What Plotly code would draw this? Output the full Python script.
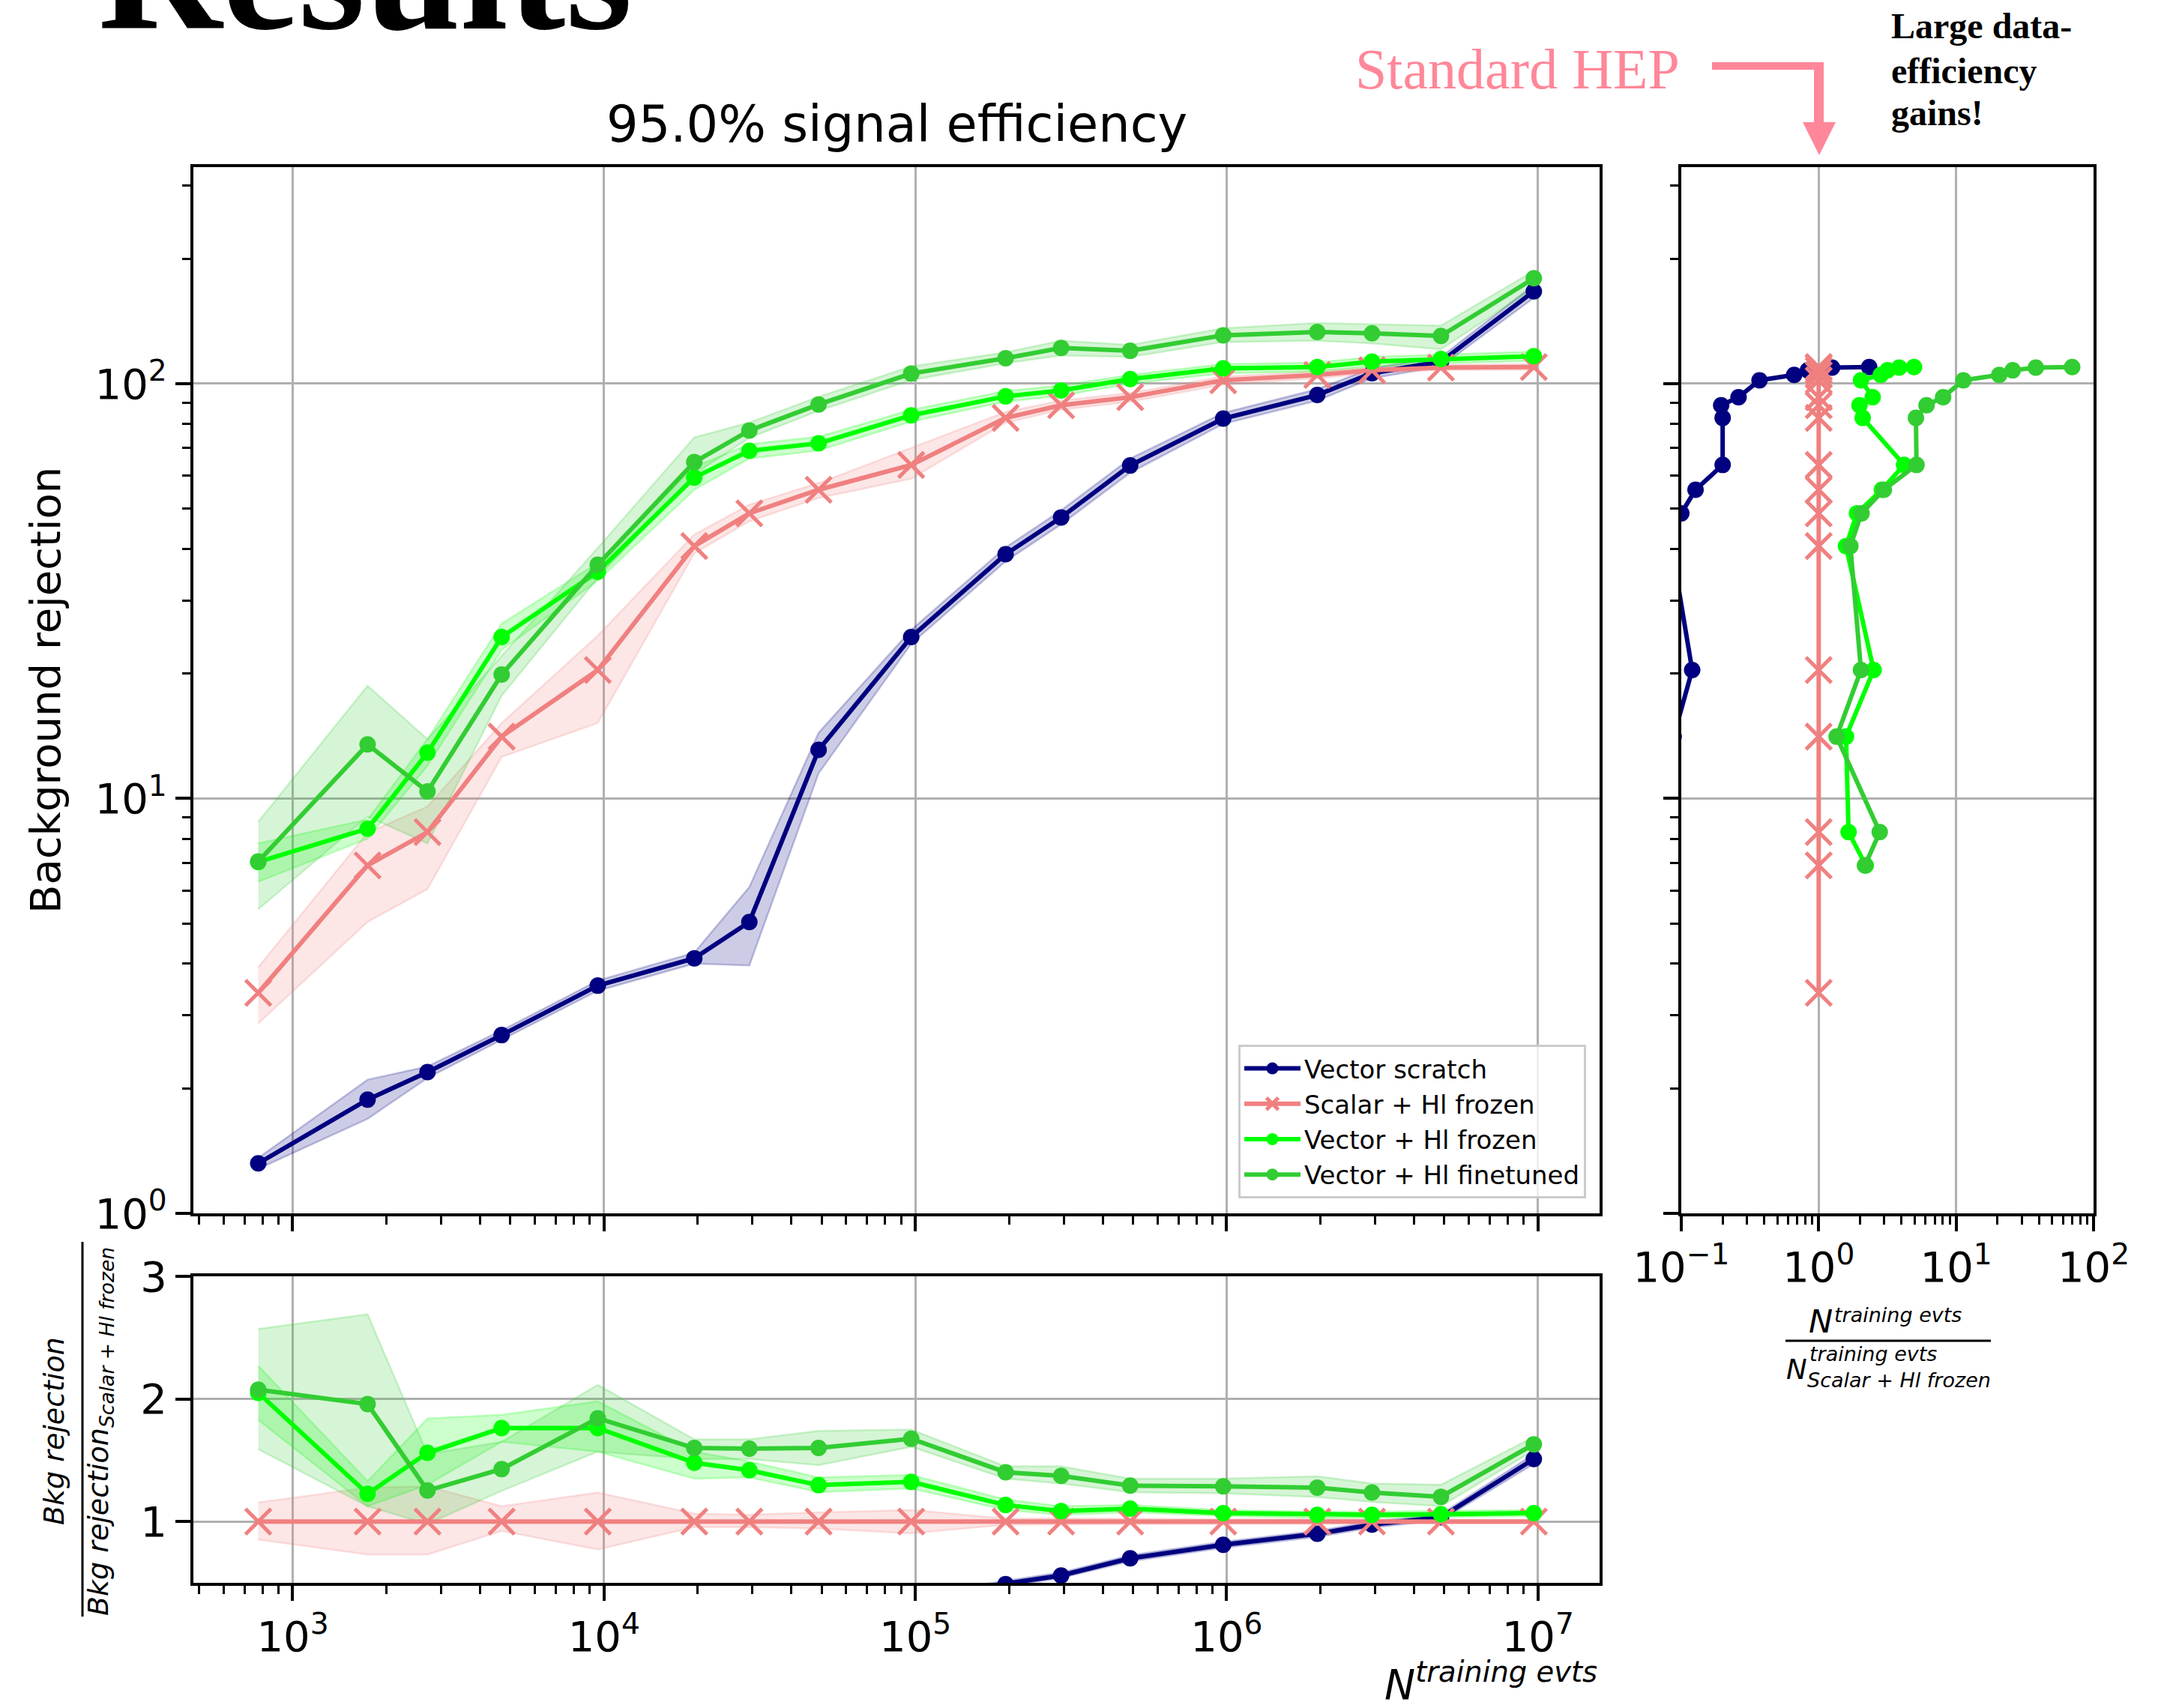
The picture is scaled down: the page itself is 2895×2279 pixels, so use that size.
import plotly.graph_objects as go

# ---------------- data ----------------
n_events = [775, 1740, 2710, 4690, 9550, 19500, 29300, 48900, 97000, 195000,
            294000, 490000, 975000, 1955000, 2930000, 4880000, 9700000]

# background rejection at 95% signal efficiency
rej_vector_scratch = [1.32, 1.88, 2.19, 2.69, 3.54, 4.12, 5.04, 13.1, 24.5, 38.8,
                      47.6, 63.5, 82.4, 93.9, 106, 113, 167]
rej_vector_scratch_lo = [1.28, 1.69, 2.12, 2.62, 3.44, 4.0, 3.96, 11.5, 23.6, 37.3,
                         45.8, 61, 80, 91, 103, 110, 161]
rej_vector_scratch_hi = [1.36, 2.10, 2.26, 2.76, 3.64, 4.25, 6.12, 14.4, 25.5, 40.3,
                         49.5, 66, 85, 97, 109, 116, 173]

rej_scalar_frozen = [3.40, 6.90, 8.30, 14.1, 20.4, 40.6, 48.7, 55.5, 63.7, 82.7,
                     88.7, 92.8, 101.9, 105, 107.7, 109.3, 109.7]
rej_scalar_frozen_lo = [2.87, 5.04, 6.05, 12.6, 15.2, 39.0, 46.6, 53.0, 59.0, 80.5,
                        86.5, 90.5, 99.5, 103, 106, 108, 108]
rej_scalar_frozen_hi = [3.92, 8.27, 9.57, 15.2, 24.7, 43.3, 51.1, 57.6, 70.0, 85.5,
                        91, 95, 104, 107, 109.5, 111, 111.5]

rej_vector_frozen = [7.03, 8.46, 12.9, 24.5, 35.2, 59.4, 68.9, 71.8, 83.9, 93.2,
                     96.3, 102.6, 108.9, 109.7, 113, 114.7, 116.5]
rej_vector_frozen_lo = [6.3, 8.0, 12.0, 22.8, 33.5, 55.5, 66, 69, 81, 90.5,
                        93.5, 100, 106, 107, 110, 112, 113.5]
rej_vector_frozen_hi = [7.8, 8.9, 13.9, 26.4, 37.0, 63.0, 71.5, 74.5, 86.5, 96,
                        99, 105, 111.5, 112.5, 116, 117.5, 119.5]

rej_vector_finetuned = [7.05, 13.5, 10.4, 19.9, 36.6, 64.7, 77.1, 89.1, 105.8, 115.2,
                        121.9, 120, 130.8, 133.2, 132.2, 130.3, 179.5]
rej_vector_finetuned_lo = [5.41, 9.05, 7.8, 17.7, 34.0, 60.5, 74, 86, 102, 112,
                           117, 116, 126, 127, 125, 121, 170]
rej_vector_finetuned_hi = [8.79, 18.7, 13.9, 22.1, 40.2, 74.2, 80.6, 93, 110, 119,
                           127, 124, 136, 140, 139, 138, 187]

# ratio to Scalar + Hl frozen
ratio_vector_scratch = [0.39, 0.27, 0.26, 0.19, 0.17, 0.10, 0.10, 0.24, 0.38, 0.49,
                        0.56, 0.70, 0.81, 0.90, 0.975, 1.035, 1.51]
ratio_vector_scratch_lo = [0.37, 0.24, 0.25, 0.18, 0.16, 0.095, 0.08, 0.21, 0.36, 0.465,
                           0.54, 0.675, 0.785, 0.875, 0.95, 1.01, 1.47]
ratio_vector_scratch_hi = [0.41, 0.30, 0.27, 0.20, 0.18, 0.105, 0.12, 0.27, 0.40, 0.515,
                           0.585, 0.725, 0.835, 0.925, 1.0, 1.06, 1.55]

ratio_scalar_frozen = [1.0, 1.0, 1.0, 1.0, 1.0, 1.0, 1.0, 1.0, 1.0, 1.0,
                       1.0, 1.0, 1.0, 1.0, 1.0, 1.0, 1.0]
ratio_scalar_frozen_lo = [0.853, 0.731, 0.731, 0.923, 0.772, 0.954, 0.954, 0.943, 0.903, 0.974,
                          0.975, 0.978, 0.98, 0.98, 0.985, 0.985, 0.985]
ratio_scalar_frozen_hi = [1.156, 1.277, 1.287, 1.125, 1.236, 1.065, 1.055, 1.075, 1.095, 1.024,
                          1.025, 1.022, 1.02, 1.02, 1.015, 1.015, 1.015]

ratio_vector_frozen = [2.05, 1.226, 1.56, 1.762, 1.762, 1.479, 1.418, 1.297, 1.323, 1.135,
                       1.085, 1.105, 1.069, 1.055, 1.055, 1.059, 1.069]
ratio_vector_frozen_lo = [1.83, 1.125, 1.30, 1.65, 1.57, 1.35, 1.36, 1.24, 1.27, 1.095,
                          1.055, 1.075, 1.045, 1.03, 1.03, 1.035, 1.045]
ratio_vector_frozen_hi = [2.27, 1.33, 1.84, 1.87, 1.98, 1.57, 1.49, 1.36, 1.38, 1.18,
                          1.125, 1.135, 1.095, 1.08, 1.08, 1.085, 1.095]

ratio_vector_finetuned = [2.075, 1.958, 1.253, 1.428, 1.842, 1.600, 1.594, 1.600, 1.675, 1.402,
                          1.372, 1.293, 1.287, 1.277, 1.236, 1.202, 1.630]
ratio_vector_finetuned_lo = [1.59, 1.125, 0.98, 1.25, 1.57, 1.51, 1.51, 1.46, 1.61, 1.35,
                             1.31, 1.24, 1.23, 1.20, 1.16, 1.125, 1.58]
ratio_vector_finetuned_hi = [2.57, 2.69, 1.55, 1.65, 2.115, 1.67, 1.67, 1.74, 1.75, 1.45,
                             1.45, 1.35, 1.35, 1.37, 1.31, 1.30, 1.69]

# right panel: N(training evts) / N(Scalar + Hl frozen) at the scalar rejection levels
nratio_vector_scratch = [0.07, 0.05, 0.07, 0.088, 0.12, 0.085, 0.10, 0.127, 0.20, 0.20,
                         0.195, 0.261, 0.371, 0.663, 0.835, 1.25, 2.33]
nratio_scalar_frozen = [1.0, 1.0, 1.0, 1.0, 1.0, 1.0, 1.0, 1.0, 1.0, 1.0,
                        1.0, 1.0, 1.0, 1.0, 1.0, 1.0, 1.0]
nratio_vector_frozen = [None, 2.20, 1.65, 1.58, 2.51, 1.58, 1.90, 2.88, 4.18, 2.09,
                        1.98, 2.47, 2.03, 2.83, 3.17, 3.85, 4.94]
nratio_vector_finetuned = [None, 2.17, 2.78, 1.35, 2.03, 1.70, 2.05, 2.98, 5.15, 5.10,
                           6.09, 8.04, 11.3, 20.6, 25.8, 38.0, 69.9]

series_names = ["Vector scratch", "Scalar + Hl frozen", "Vector + Hl frozen", "Vector + Hl finetuned"]

# ---------------- styling ----------------
W, H = 2895, 2279
def px(x):
    return x / W
def py(y):
    return 1 - y / H

colors = ["#000080", "#F08080", "#00FF00", "#32CD32"]
rgb = ["0,0,128", "240,128,128", "0,255,0", "50,205,50"]
FONT = "DejaVu Sans"
GRID = "#b0b0b0"

main = [(rej_vector_scratch, rej_vector_scratch_lo, rej_vector_scratch_hi),
        (rej_scalar_frozen, rej_scalar_frozen_lo, rej_scalar_frozen_hi),
        (rej_vector_frozen, rej_vector_frozen_lo, rej_vector_frozen_hi),
        (rej_vector_finetuned, rej_vector_finetuned_lo, rej_vector_finetuned_hi)]
ratio = [(ratio_vector_scratch, ratio_vector_scratch_lo, ratio_vector_scratch_hi),
         (ratio_scalar_frozen, ratio_scalar_frozen_lo, ratio_scalar_frozen_hi),
         (ratio_vector_frozen, ratio_vector_frozen_lo, ratio_vector_frozen_hi),
         (ratio_vector_finetuned, ratio_vector_finetuned_lo, ratio_vector_finetuned_hi)]
nratio = [nratio_vector_scratch, nratio_scalar_frozen, nratio_vector_frozen, nratio_vector_finetuned]

fig = go.Figure()

def marker_for(i):
    if i == 1:
        return dict(symbol="x-thin", size=34, color=colors[i],
                    line=dict(width=5, color=colors[i]))
    return dict(symbol="circle", size=22, color=colors[i], line=dict(width=0))

# bands (below lines)
for axes, data in ((("x", "y"), main), (("x2", "y2"), ratio)):
    for i, (v, lo, hi) in enumerate(data):
        fig.add_trace(go.Scatter(
            x=list(n_events) + list(reversed(n_events)),
            y=list(hi) + list(reversed(lo)),
            xaxis=axes[0], yaxis=axes[1], mode="lines", fill="toself",
            fillcolor=f"rgba({rgb[i]},0.2)",
            line=dict(color=f"rgba({rgb[i]},0.22)", width=2.5),
            showlegend=False, hoverinfo="skip"))

# lines
for i, (v, lo, hi) in enumerate(main):
    fig.add_trace(go.Scatter(x=n_events, y=v, xaxis="x", yaxis="y", mode="lines+markers",
                             name=series_names[i], line=dict(color=colors[i], width=6),
                             marker=marker_for(i), showlegend=True))
for i, (v, lo, hi) in enumerate(ratio):
    fig.add_trace(go.Scatter(x=n_events, y=v, xaxis="x2", yaxis="y2", mode="lines+markers",
                             line=dict(color=colors[i], width=6),
                             marker=marker_for(i), showlegend=False))
for i, nr in enumerate(nratio):
    fig.add_trace(go.Scatter(x=nr, y=rej_scalar_frozen, xaxis="x3", yaxis="y3",
                             mode="lines+markers", line=dict(color=colors[i], width=6),
                             marker=marker_for(i), showlegend=False))

# ---------------- axes ----------------
tickfont = dict(family=FONT, size=56, color="black")
common = dict(showline=True, linecolor="black", linewidth=4, mirror=True,
              ticks="outside", ticklen=20, tickwidth=4, tickcolor="black",
              showgrid=True, gridcolor=GRID, gridwidth=2.5, zeroline=False,
              tickfont=tickfont, automargin=False)

def log_minor(lo_dec, hi_dec):
    return [m * 10 ** d for d in range(lo_dec, hi_dec) for m in range(2, 10)]

minor_style = dict(ticks="outside", ticklen=11, tickwidth=3, tickcolor="black", showgrid=False)

x_major = [1e3, 1e4, 1e5, 1e6, 1e7]
x_major_text = ["10<sup>3</sup>", "10<sup>4</sup>", "10<sup>5</sup>", "10<sup>6</sup>", "10<sup>7</sup>"]

fig.update_layout(
    xaxis=dict(common, domain=[px(258), px(2134)], anchor="y", type="log",
               range=[2.681, 7.198], tickmode="array", tickvals=x_major,
               ticktext=x_major_text, showticklabels=False,
               minor=dict(minor_style, tickmode="array", tickvals=log_minor(2, 7))),
    yaxis=dict(common, domain=[py(1619), py(223)], anchor="x", type="log",
               range=[0, 2.522], tickmode="array", tickvals=[1, 10, 100],
               ticktext=["10<sup>0</sup>", "10<sup>1</sup>", "10<sup>2</sup>"],
               minor=dict(minor_style, tickmode="array", tickvals=log_minor(0, 3))),
    xaxis2=dict(common, domain=[px(258), px(2134)], anchor="y2", type="log",
                range=[2.681, 7.198], tickmode="array", tickvals=x_major,
                ticktext=x_major_text,
                minor=dict(minor_style, tickmode="array", tickvals=log_minor(2, 7))),
    yaxis2=dict(common, domain=[py(2112), py(1703)], anchor="x2", type="linear",
                range=[0.5, 3.0], tickmode="array", tickvals=[1, 2, 3],
                ticktext=["1", "2", "3"]),
    xaxis3=dict(common, domain=[px(2243), px(2793)], anchor="y3", type="log",
                range=[-1, 2], tickmode="array", tickvals=[0.1, 1, 10, 100],
                ticktext=["10<sup>\u22121</sup>", "10<sup>0</sup>", "10<sup>1</sup>", "10<sup>2</sup>"],
                minor=dict(minor_style, tickmode="array", tickvals=log_minor(-1, 2))),
    yaxis3=dict(common, domain=[py(1619), py(223)], anchor="x3", type="log",
                range=[0, 2.522], tickmode="array", tickvals=[1, 10, 100],
                showticklabels=False,
                minor=dict(minor_style, tickmode="array", tickvals=log_minor(0, 3))),
)

# ---------------- text ----------------
ann = []
def A(text, x, y, size, xanchor="center", yanchor="middle", angle=0, color="black", family=FONT):
    ann.append(dict(text=text, x=px(x), y=py(y), xref="paper", yref="paper",
                    xanchor=xanchor, yanchor=yanchor, textangle=angle, showarrow=False,
                    font=dict(family=family, size=size, color=color), borderpad=0))

A("95.0% signal efficiency", 1196, 166, 67)
A("Background rejection", 60, 921, 56, angle=-90)
A("<i>Bkg rejection</i>", 72, 1910, 38, angle=-90)
A("<i>Bkg rejection</i><sub><i>Scalar + Hl frozen</i></sub>", 133, 1910, 38, angle=-90)
A("<i>N</i><sup><i>training evts</i></sup>", 2132, 2244, 55, xanchor="right")
# right panel x label (fraction)
A("<i>N</i>", 2429, 1763, 43)
A("<i>training evts</i>", 2446, 1754, 27, xanchor="left")
A("<i>N</i>", 2397, 1827, 37)
A("<i>training evts</i>", 2413, 1806, 27, xanchor="left")
A("<i>Scalar + Hl frozen</i>", 2410, 1841, 27, xanchor="left")
# decorations
SERIF = "Liberation Serif"
A("<b>Results</b>", 130, 89, 229, xanchor="left", yanchor="bottom", family=SERIF)
A("Standard HEP", 2024, 92, 76, color="#FF8799", family=SERIF)
A("<b>Large data-</b>", 2522, 34, 48, xanchor="left", family=SERIF)
A("<b>efficiency</b>", 2522, 94, 48, xanchor="left", family=SERIF)
A("<b>gains!</b>", 2522, 151, 48, xanchor="left", family=SERIF)

arrow_pts = [(2284, 83), (2433, 83), (2433, 163), (2449, 163), (2427, 207),
             (2405, 163), (2420, 163), (2420, 93), (2284, 93)]
arrow_path = "M" + " L".join(f"{px(a)},{py(b)}" for a, b in arrow_pts) + " Z"

shapes = [
    dict(type="path", path=arrow_path, xref="paper", yref="paper",
         fillcolor="#FF8799", line=dict(width=0)),
    dict(type="line", xref="paper", yref="paper", x0=px(110), x1=px(110),
         y0=py(1657), y1=py(2157), line=dict(color="black", width=3)),
    dict(type="line", xref="paper", yref="paper", x0=px(2382), x1=px(2656),
         y0=py(1789), y1=py(1789), line=dict(color="black", width=3)),
]

fig.update_layout(
    width=W, height=H, margin=dict(l=0, r=0, t=0, b=0, pad=0, autoexpand=False),
    paper_bgcolor="white", plot_bgcolor="white",
    font=dict(family=FONT, color="black"),
    annotations=ann, shapes=shapes,
    showlegend=True,
    legend=dict(x=px(2116), y=py(1599), xanchor="right", yanchor="bottom",
                bgcolor="rgba(255,255,255,0.8)", bordercolor="#cccccc", borderwidth=3,
                font=dict(family=FONT, size=34, color="black"), itemwidth=75),
)

fig.write_html("out.html")
